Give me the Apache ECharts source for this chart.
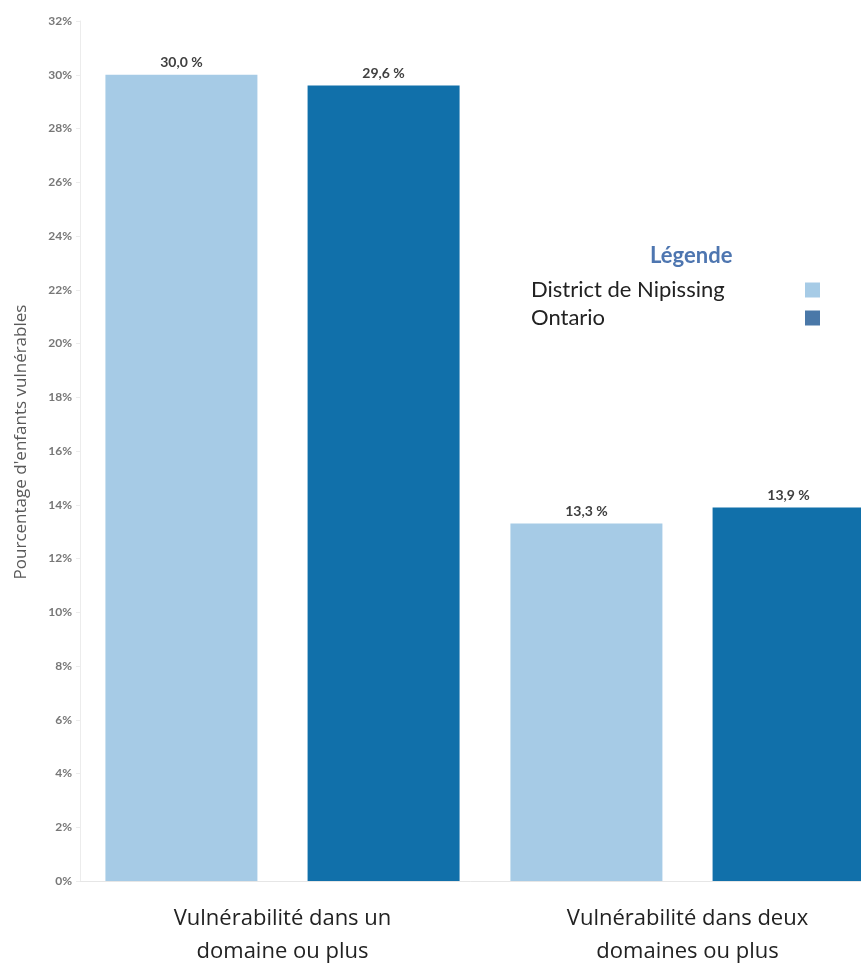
<!DOCTYPE html>
<html>
<head>
<meta charset="utf-8">
<script src="https://cdn.jsdelivr.net/npm/echarts@6/dist/echarts.min.js"></script>
<style>
  html, body { margin: 0; padding: 0; background: #fff; }
  #chart { width: 861px; height: 966px; }
</style>
</head>
<body>
<div id="chart"></div>
<script>
// Catégories et valeurs
const categories = ['Vulnérabilité dans un\ndomaine ou plus', 'Vulnérabilité dans deux\ndomaines ou plus'];
const nipissing = [30.0, 13.3];
const ontario = [29.6, 13.9];
const seriesNames = ['District de Nipissing', 'Ontario'];

const chart = echarts.init(document.getElementById('chart'));

// Étiquette des barres : virgule décimale
const labelFmt = p => p.value.toFixed(1).replace('.', ',') + ' %';

const barLabel = {
    show: true,
    position: 'top',
    distance: 5,
    formatter: labelFmt,
    color: '#404040',
    fontWeight: 'bold',
    fontSize: 14,
    fontFamily: 'Lato'
};

const option = {
    backgroundColor: '#fff',
    animation: false,
    title: {
        text: 'Légende',
        left: 645,
        top: 240,
        textStyle: { color: '#4e76b0', fontSize: 22, fontWeight: 'bold', fontFamily: 'Lato' }
    },
    legend: {
        orient: 'vertical',
        left: 526,
        top: 274,
        align: 'right',
        itemWidth: 15,
        itemHeight: 15,
        itemGap: 6,
        icon: 'rect',
        // texte aligné à gauche, carré à droite
        formatter: name => '{n|' + name + '}',
        textStyle: {
            rich: {
                n: { width: 269, align: 'left', fontSize: 22, color: '#222', fontFamily: 'Lato' }
            }
        },
        data: [
            { name: seriesNames[0], itemStyle: { color: '#a6cbe6' } },
            { name: seriesNames[1], itemStyle: { color: '#4a78a8' } }
        ]
    },
    grid: { left: 80, width: 810, top: 21, bottom: 85, outerBoundsMode: 'none' },
    xAxis: {
        type: 'category',
        data: categories,
        axisLine: { lineStyle: { color: '#e6e6e6' } },
        axisTick: { show: false },
        axisLabel: {
            margin: 21,
            fontSize: 22,
            lineHeight: 33,
            color: '#222',
            fontFamily: 'Open Sans'
        }
    },
    yAxis: {
        type: 'value',
        min: 0,
        max: 32,
        interval: 2,
        name: "Pourcentage d'enfants vulnérables",
        nameLocation: 'middle',
        nameGap: 50,
        nameTextStyle: { color: '#595959', fontSize: 17, fontFamily: 'Open Sans', padding: [0, 0, 0, 18] },
        axisLine: { show: true, lineStyle: { color: '#ececec' } },
        axisTick: { show: true, length: 4, lineStyle: { color: '#ececec' } },
        splitLine: { show: false },
        axisLabel: {
            formatter: '{value}%',
            margin: 8,
            color: '#777',
            fontSize: 12,
            fontWeight: 'bold',
            fontFamily: 'Lato'
        }
    },
    series: [
        {
            name: seriesNames[0],
            type: 'bar',
            data: nipissing,
            barWidth: 152,
            barGap: '33%',
            itemStyle: { color: '#a6cbe6' },
            label: barLabel
        },
        {
            name: seriesNames[1],
            type: 'bar',
            data: ontario,
            barWidth: 152,
            itemStyle: { color: '#1170aa' },
            label: barLabel
        }
    ]
};

chart.setOption(option);
</script>
</body>
</html>
